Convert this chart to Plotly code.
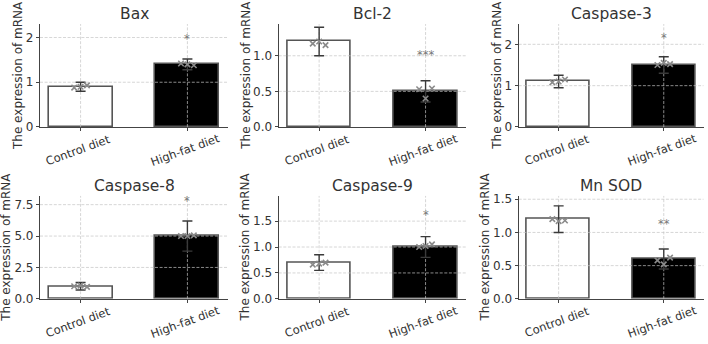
import plotly.graph_objects as go

groups = ["Control diet", "High-fat diet"]
genes = ["Bax", "Bcl-2", "Caspase-3", "Caspase-8", "Caspase-9", "Mn SOD"]
means = {
    "Bax": [0.9, 1.4],
    "Bcl-2": [1.2, 0.5],
    "Caspase-3": [1.1, 1.5],
    "Caspase-8": [1.0, 5.0],
    "Caspase-9": [0.7, 1.0],
    "Mn SOD": [1.2, 0.6],
}
errors = {
    "Bax": [0.1, 0.12],
    "Bcl-2": [0.2, 0.15],
    "Caspase-3": [0.15, 0.2],
    "Caspase-8": [0.3, 1.2],
    "Caspase-9": [0.15, 0.2],
    "Mn SOD": [0.2, 0.15],
}
points_control = {
    "Bax": [0.88, 0.9, 0.93],
    "Bcl-2": [1.17, 1.2, 1.15],
    "Caspase-3": [1.08, 1.1, 1.15],
    "Caspase-8": [1.0, 1.05, 0.95],
    "Caspase-9": [0.66, 0.68, 0.7],
    "Mn SOD": [1.2, 1.17, 1.18],
}
points_hf = {
    "Bax": [1.42, 1.4, 1.38],
    "Bcl-2": [0.53, 0.4, 0.54],
    "Caspase-3": [1.5, 1.55, 1.52],
    "Caspase-8": [5.0, 5.0, 5.05],
    "Caspase-9": [1.0, 1.02, 1.05],
    "Mn SOD": [0.58, 0.52, 0.62],
}
jitter = [-0.06, 0.0, 0.06]
sig_labels = {"Bax": "*", "Bcl-2": "***", "Caspase-3": "*", "Caspase-8": "*", "Caspase-9": "*", "Mn SOD": "**"}
sig_y = {"Bax": 1.96, "Bcl-2": 1.01, "Caspase-3": 2.16, "Caspase-8": 7.76, "Caspase-9": 1.61, "Mn SOD": 1.13}
y_max = {"Bax": 2.3, "Bcl-2": 1.445, "Caspase-3": 2.49, "Caspase-8": 8.21, "Caspase-9": 1.99, "Mn SOD": 1.553}
y_ticks = {
    "Bax": [0, 1, 2],
    "Bcl-2": [0, 0.5, 1.0],
    "Caspase-3": [0, 1, 2],
    "Caspase-8": [0, 2.5, 5.0, 7.5],
    "Caspase-9": [0, 0.5, 1.0, 1.5, 2.0],
    "Mn SOD": [0, 0.5, 1.0, 1.5],
}
y_fmt = {"Bax": "d", "Bcl-2": ".1f", "Caspase-3": "d", "Caspase-8": ".1f", "Caspase-9": ".1f", "Mn SOD": ".1f"}

W, H = 708, 344
col_px = [(40, 228), (278.7, 466), (518.7, 703.7)]
row_px = [(21.7, 127.7), (198.5, 304.7)]
xr = [-0.38, 1.38]

GRID = "#c4c4c4"
DARK = "#3a3a3a"
fig = go.Figure()
annotations = []
FONT = "DejaVu Sans"

for i, g in enumerate(genes):
    r, c = divmod(i, 3)
    n = i + 1
    xa = "x" if n == 1 else f"x{n}"
    ya = "y" if n == 1 else f"y{n}"
    xs = [0, 1]
    # bars
    fig.add_trace(go.Bar(
        x=xs, y=means[g], width=0.6,
        marker=dict(color=["white", "black"], line=dict(color="#555555", width=1.6)),
        xaxis=xa, yaxis=ya, showlegend=False, hoverinfo="skip"))
    # grid lines above bars
    for t in y_ticks[g]:
        if t == 0:
            continue
        fig.add_trace(go.Scatter(x=xr, y=[t, t], mode="lines",
                                 line=dict(color=GRID, width=0.7, dash="3px,1.6px"),
                                 xaxis=xa, yaxis=ya, showlegend=False, hoverinfo="skip"))
    for xv in xs:
        fig.add_trace(go.Scatter(x=[xv, xv], y=[0, y_max[g]], mode="lines",
                                 line=dict(color=GRID, width=0.7, dash="3px,1.6px"),
                                 xaxis=xa, yaxis=ya, showlegend=False, hoverinfo="skip"))
    # error bars
    fig.add_trace(go.Scatter(
        x=xs, y=means[g], mode="markers", marker=dict(size=0.1, color="rgba(0,0,0,0)"),
        error_y=dict(type="data", array=errors[g], visible=True, color=DARK, thickness=1.4, width=5),
        xaxis=xa, yaxis=ya, showlegend=False, hoverinfo="skip"))
    # individual points
    px_ = [0 + j for j in jitter] + [1 + j for j in jitter]
    py_ = points_control[g] + points_hf[g]
    fig.add_trace(go.Scatter(
        x=px_, y=py_, mode="markers",
        marker=dict(symbol="x-thin", size=5.5, line=dict(color="#8a8a8a", width=1.6), color="#8a8a8a"),
        xaxis=xa, yaxis=ya, showlegend=False, hoverinfo="skip"))
    # significance marker
    annotations.append(dict(x=1, y=sig_y[g], xref=xa, yref=ya, text=sig_labels[g],
                            showarrow=False, font=dict(family=FONT, size=11.5, color="#777777"),
                            xanchor="center", yanchor="middle"))
    x0, x1 = col_px[c]
    y0, y1 = row_px[r]
    fig.update_layout(**{
        ("xaxis" if n == 1 else f"xaxis{n}"): dict(
            domain=[x0 / W, x1 / W], range=xr, anchor=ya,
            tickvals=xs, ticktext=["", ""], showgrid=False, zeroline=False,
            showline=True, linecolor="#444444", linewidth=1.2,
            ticks="outside", ticklen=3, tickcolor="#444444", fixedrange=True),
        ("yaxis" if n == 1 else f"yaxis{n}"): dict(
            domain=[1 - y1 / H, 1 - y0 / H], range=[0, y_max[g]], anchor=xa,
            tickvals=y_ticks[g], tickformat=y_fmt[g], showgrid=False, zeroline=False,
            showline=True, linecolor="#444444", linewidth=1.2,
            ticks="outside", ticklen=3, tickcolor="#444444",
            tickfont=dict(family=FONT, size=12, color="#333333"), fixedrange=True),
    })
    # title
    annotations.append(dict(x=(x0 + x1) / 2 / W, y=1 - (y0 - 10.5) / H, xref="paper", yref="paper",
                            text=g, showarrow=False, font=dict(family=FONT, size=15.5, color="#333333"),
                            xanchor="center", yanchor="middle"))
    # y axis title
    off = 22.5 if y_fmt[g] == "d" else 33.5
    annotations.append(dict(x=(x0 - off) / W, y=1 - (y0 + y1) / 2 / H, xref="paper", yref="paper",
                            text="The expression of mRNA", textangle=-90, showarrow=False,
                            font=dict(family=FONT, size=12, color="#333333"),
                            xanchor="center", yanchor="middle"))
    # x tick labels (rotated)
    for xv, lab in zip(xs, groups):
        annotations.append(dict(x=xv - 0.02, y=0, xref=xa, yref=f"{ya} domain", text=lab, textangle=-20,
                                showarrow=False, font=dict(family=FONT, size=11.5, color="#333333"),
                                xanchor="center", yanchor="middle", yshift=-23))

fig.update_layout(
    width=W, height=H, margin=dict(l=0, r=0, t=0, b=0),
    paper_bgcolor="white", plot_bgcolor="white",
    annotations=annotations, bargap=0,
    font=dict(family=FONT, color="#333333"),
)
fig.write_html("out.html")
